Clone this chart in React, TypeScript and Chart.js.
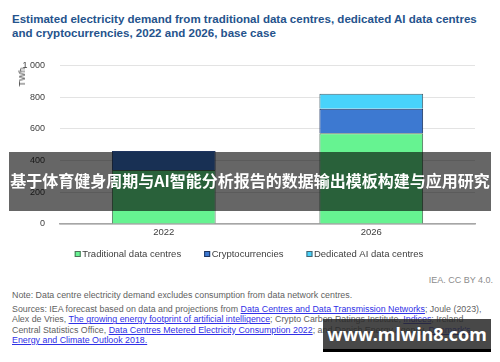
import React, { useEffect, useRef } from 'react';
import { Chart, registerables } from 'chart.js';

Chart.register(...registerables);

const categories = ['2022', '2026'];
const traditional = [340, 572];
const cryptocurrencies = [120, 154];
const dedicatedAI = [0, 95];
const seriesLabels = ['Traditional data centres', 'Cryptocurrencies', 'Dedicated AI data centres'];
const yTickValues = [0, 200, 400, 600, 800, 1000];
const yTickLabels = ['0', '200', '400', '600', '800', '1 000'];

const FONT = '"Liberation Sans", Arial, Helvetica, sans-serif';

const legendPlugin = {
  id: 'customLegend',
  afterDraw(chart: any) {
    const ctx = chart.ctx as CanvasRenderingContext2D;
    const area = chart.chartArea;
    const y = area.bottom + 30;
    ctx.save();
    ctx.font = `9.5px ${FONT}`;
    ctx.textBaseline = 'middle';
    const box = 6;
    const gapText = 1.5;
    const gapItem = 23;
    const items = chart.data.datasets.map((ds: any) => ({
      text: ds.label as string,
      fill: ds.backgroundColor as string,
      stroke: ds.borderColor as string,
    }));
    const widths = items.map((it: any) => box + gapText + ctx.measureText(it.text).width);
    const total = widths.reduce((a: number, b: number) => a + b, 0) + gapItem * (items.length - 1);
    let x = chart.width / 2 - 1 - total / 2;
    items.forEach((it: any, i: number) => {
      ctx.fillStyle = it.fill;
      ctx.fillRect(x, y - box / 2, box, box);
      ctx.strokeStyle = it.stroke;
      ctx.lineWidth = 1;
      ctx.strokeRect(x + 0.5, y - box / 2 + 0.5, box - 1, box - 1);
      ctx.fillStyle = '#404040';
      ctx.fillText(it.text, x + box + gapText, y);
      x += widths[i] + gapItem;
    });
    ctx.restore();
  },
};

function ChartCanvas() {
  const ref = useRef<HTMLCanvasElement | null>(null);
  useEffect(() => {
    if (!ref.current) return;
    const chart = new Chart(ref.current, {
      type: 'bar',
      data: {
        labels: categories,
        datasets: [
          {
            label: seriesLabels[0],
            data: traditional,
            backgroundColor: '#66f391',
            borderColor: '#4f6f5a',
            borderWidth: 1,
          },
          {
            label: seriesLabels[1],
            data: cryptocurrencies,
            backgroundColor: '#3d79d1',
            borderColor: '#1f3560',
            borderWidth: 1,
          },
          {
            label: seriesLabels[2],
            data: dedicatedAI,
            backgroundColor: '#48d3fb',
            borderColor: '#4a6470',
            borderWidth: 1,
          },
        ],
      },
      options: {
        animation: false,
        responsive: false,
        maintainAspectRatio: false,
        layout: { padding: { top: 17, right: 25, left: 0, bottom: 30 } },
        datasets: { bar: { categoryPercentage: 1, barPercentage: 0.5 } },
        plugins: { legend: { display: false }, tooltip: { enabled: false } },
        scales: {
          x: {
            stacked: true,
            grid: { display: false, drawTicks: false },
            border: { display: true, color: '#a6a6a6', width: 1.5 },
            ticks: { color: '#404040', font: { family: FONT, size: 9.5 }, padding: 3 },
            afterFit(scale: any) {
              scale.height = 16;
            },
          },
          y: {
            stacked: true,
            min: 0,
            max: 1000,
            afterBuildTicks(scale: any) {
              scale.ticks = yTickValues.map((v) => ({ value: v }));
            },
            grid: {
              color: '#e3e3e3',
              lineWidth: 1,
              drawTicks: false,
            },
            border: { display: false },
            ticks: {
              color: '#404040',
              font: { family: FONT, size: 9 },
              padding: 15,
              callback: (value: any) => {
                const idx = yTickValues.indexOf(Number(value));
                return idx >= 0 ? yTickLabels[idx] : '';
              },
            },
            afterFit(scale: any) {
              scale.width = 60;
            },
          },
        },
      },
      plugins: [legendPlugin],
    });
    return () => chart.destroy();
  }, []);
  return (
    <canvas
      ref={ref}
      width={500}
      height={225}
      style={{ position: 'absolute', left: 0, top: 45, width: 500, height: 225 }}
    />
  );
}

const linkStyle: React.CSSProperties = { color: '#3030e6', textDecoration: 'underline' };

export default function App() {
  return (
    <div
      style={{
        position: 'fixed',
        left: 0,
        top: 0,
        width: 500,
        height: 362,
        background: '#ffffff',
        overflow: 'hidden',
        fontFamily: FONT,
      }}
    >
      <div
        style={{
          position: 'absolute',
          left: 12,
          top: 11.75,
          fontSize: 11.55,
          lineHeight: '14.5px',
          fontWeight: 'bold',
          color: '#25538c',
          whiteSpace: 'nowrap',
        }}
      >
        <div>Estimated electricity demand from traditional data centres, dedicated AI data centres</div>
        <div>and cryptocurrencies, 2022 and 2026, base case</div>
      </div>
      <ChartCanvas />
      <div
        style={{
          position: 'absolute',
          left: 21.5,
          top: 77,
          transform: 'translate(-50%, -50%) rotate(-90deg)',
          fontSize: 9,
          color: '#404040',
          whiteSpace: 'nowrap',
        }}
      >
        TWh
      </div>
      <div
        style={{
          position: 'absolute',
          right: 7,
          top: 274.75,
          fontSize: 9,
          lineHeight: '10.5px',
          color: '#8c8c8c',
          whiteSpace: 'nowrap',
        }}
      >
        IEA. CC BY 4.0.
      </div>
      <div
        style={{
          position: 'absolute',
          left: 12,
          top: 290.25,
          fontSize: 8.85,
          lineHeight: '10.5px',
          color: '#5f5f5f',
          whiteSpace: 'nowrap',
        }}
      >
        Note: Data centre electricity demand excludes consumption from data network centres.
      </div>
      <div
        style={{
          position: 'absolute',
          left: 12,
          top: 303.75,
          fontSize: 8.85,
          lineHeight: '10.5px',
          color: '#5f5f5f',
          whiteSpace: 'nowrap',
        }}
      >
        <div>
          Sources: IEA forecast based on data and projections from{' '}
          <span style={linkStyle}>Data Centres and Data Transmission Networks</span>; Joule (2023),
        </div>
        <div>
          Alex de Vries, <span style={linkStyle}>The growing energy footprint of artificial intelligence</span>; Crypto
          Carbon Ratings Institute, <span style={linkStyle}>Indices</span>; Ireland
        </div>
        <div>
          Central Statistics Office, <span style={linkStyle}>Data Centres Metered Electricity Consumption 2022</span>; and
          Danish Energy Agency, <span style={linkStyle}>Denmark's</span>
        </div>
        <div>
          <span style={linkStyle}>Energy and Climate Outlook 2018.</span>
        </div>
      </div>
      <div
        style={{
          position: 'absolute',
          left: 9,
          top: 152,
          width: 482,
          height: 59,
          background: 'rgba(0,0,0,0.6)',
          color: '#ffffff',
          fontFamily: '"Noto Sans CJK SC", "Noto Sans", sans-serif',
          fontWeight: 'bold',
          fontSize: 16,
          lineHeight: '59px',
          textAlign: 'center',
          whiteSpace: 'nowrap',
          overflow: 'hidden',
        }}
      >
        <span style={{ position: 'relative', top: -1 }}>基于体育健身周期与AI智能分析报告的数据输出模板构建与应用研究</span>
      </div>
      <div
        style={{
          position: 'absolute',
          left: 323,
          top: 319,
          width: 168,
          height: 33,
          background: 'rgba(40,40,40,0.85)',
          borderBottom: '3px solid #000',
          boxSizing: 'border-box',
          color: '#ffffff',
          fontFamily: '"Noto Sans", "DejaVu Sans", sans-serif',
          fontWeight: 'bold',
          fontSize: 18,
          lineHeight: '30px',
          textAlign: 'center',
          whiteSpace: 'nowrap',
        }}
      >
        www.mlwin8.com
      </div>
    </div>
  );
}
